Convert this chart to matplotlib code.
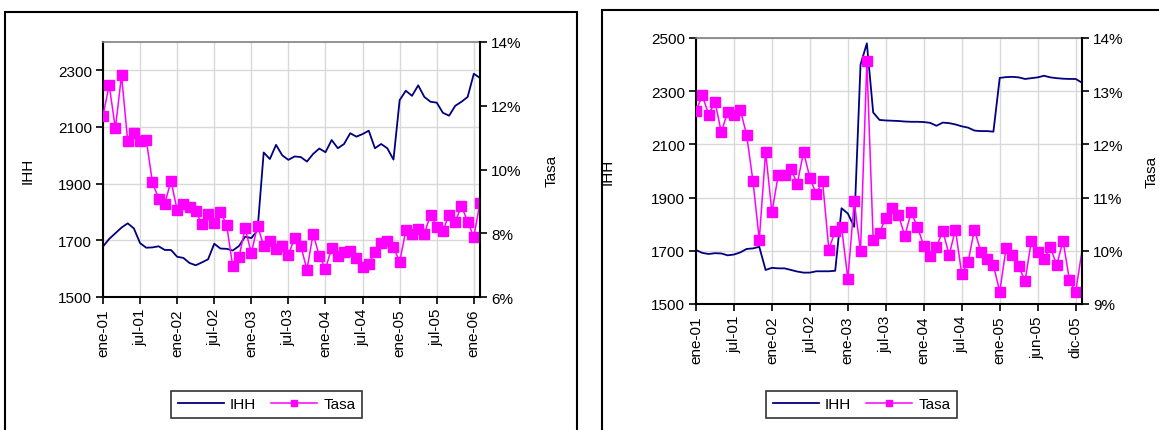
import matplotlib.pyplot as plt
from matplotlib.patches import Rectangle
from matplotlib.ticker import FuncFormatter

plt.rcParams['font.family'] = ['Liberation Sans', 'DejaVu Sans']
plt.rcParams['font.size'] = 11

# --- datos panel izquierdo (mensual, ene-01 .. feb-06)
ihh_izq = [1678, 1705, 1725, 1745, 1760, 1742, 1690, 1674, 1675, 1679,
           1666, 1666, 1642, 1638, 1620, 1612, 1622, 1633, 1688, 1671,
           1670, 1664, 1680, 1713, 1708, 1735, 2010, 1987, 2037, 2000,
           1984, 1996, 1994, 1978, 2005, 2024, 2011, 2054, 2025, 2040,
           2078, 2066, 2075, 2087, 2025, 2040, 2025, 1985, 2195, 2228,
           2210, 2247, 2206, 2189, 2186, 2150, 2140, 2175, 2189, 2206,
           2288, 2273]
tasa_izq = [11.69, 12.65, 11.29, 12.96, 10.88, 11.15, 10.88, 10.93, 9.60, 9.08,
            8.93, 9.64, 8.73, 8.93, 8.81, 8.69, 8.29, 8.60, 8.33, 8.68,
            8.26, 6.96, 7.25, 8.16, 7.37, 8.24, 7.61, 7.75, 7.52, 7.60,
            7.32, 7.85, 7.60, 6.86, 7.98, 7.29, 6.89, 7.53, 7.29, 7.42,
            7.45, 7.23, 6.94, 7.04, 7.41, 7.70, 7.75, 7.57, 7.10, 8.09,
            7.98, 8.12, 7.99, 8.58, 8.20, 8.08, 8.58, 8.36, 8.86, 8.36,
            7.89, 8.96]
etiq_izq = ["ene-01", "jul-01", "ene-02", "jul-02", "ene-03", "jul-03",
            "ene-04", "jul-04", "ene-05", "jul-05", "ene-06"]

# --- datos panel derecho
ihh_der = [1703, 1692, 1688, 1691, 1690, 1683, 1686, 1694, 1707, 1709,
           1715, 1628, 1636, 1634, 1634, 1628, 1622, 1618, 1618, 1623,
           1623, 1623, 1625, 1860, 1840, 1790, 2400, 2480, 2220, 2192,
           2190, 2189, 2188, 2186, 2185, 2185, 2184, 2181, 2170, 2182,
           2180, 2175, 2168, 2163, 2152, 2150, 2150, 2148, 2350, 2353,
           2354, 2352, 2346, 2349, 2352, 2358, 2352, 2349, 2347, 2346,
           2346, 2332]
tasa_der = [12.63, 12.92, 12.56, 12.80, 12.23, 12.61, 12.56, 12.65, 12.18, 11.31,
            10.21, 11.86, 10.72, 11.43, 11.43, 11.54, 11.26, 11.86, 11.37, 11.07,
            11.31, 10.02, 10.38, 10.45, 9.47, 10.93, 10.00, 13.56, 10.21, 10.34,
            10.62, 10.81, 10.67, 10.28, 10.72, 10.45, 10.09, 9.90, 10.07, 10.38,
            9.92, 10.40, 9.56, 9.79, 10.40, 9.98, 9.84, 9.73, 9.23, 10.05,
            9.92, 9.71, 9.43, 10.19, 9.98, 9.84, 10.07, 9.73, 10.19, 9.46,
            9.23, 10.00]
etiq_der = ["ene-01", "jul-01", "ene-02", "jul-02", "ene-03", "jul-03",
            "ene-04", "jul-04", "ene-05", "jun-05", "dic-05"]

AZUL = "#000080"
MAGENTA = "#FF00FF"
W, H = 1159, 431

fig = plt.figure(figsize=(W / 100, H / 100), dpi=100)


def px(x0, y0, x1, y1):
    # caja en pixeles -> fracción de figura
    return [x0 / W, 1 - y1 / H, (x1 - x0) / W, (y1 - y0) / H]


# marcos de cada gráfico
fig.add_artist(Rectangle((5 / W, -0.05), 572 / W, 1.05 - 13 / H, transform=fig.transFigure,
                         fill=False, edgecolor="black", lw=1.5))
fig.add_artist(Rectangle((602 / W, -0.05), 0.6, 1.05 - 11 / H, transform=fig.transFigure,
                         fill=False, edgecolor="black", lw=1.5))


def panel(rect, ihh, tasa, etiq, ylim, yticks, tlim, tticks, ihh_lab_x, tasa_lab_x, leg_rect, last_marker=True):
    ax = fig.add_axes(px(*rect))
    n = len(ihh)
    x = list(range(n))
    l1, = ax.plot(x, ihh, color=AZUL, lw=1.3, label="IHH")
    ax.set_ylim(*ylim)
    ax.set_yticks(yticks)
    ax.set_xlim(0, n - 1)
    ax.set_xticks(range(0, 61, 6))
    ax.set_xticklabels(etiq, rotation=90)
    ax.grid(True, color="#d9d9d9", lw=1)
    ax.set_axisbelow(True)
    ax.tick_params(direction="out", length=5, width=1.2, pad=3)
    for s in ["left", "bottom"]:
        ax.spines[s].set_linewidth(1.5)
    ax.spines["top"].set_color("#808080")
    ax.spines["top"].set_linewidth(1.2)
    ax.spines["right"].set_visible(False)
    ax.set_ylabel("IHH")
    ax.yaxis.set_label_coords((ihh_lab_x - rect[0]) / (rect[2] - rect[0]), 0.5)

    ax2 = ax.twinx()
    mk = None if last_marker else list(range(n - 1))
    l2, = ax2.plot(x, tasa, color=MAGENTA, lw=1.1, marker="s", ms=7,
                   markevery=mk, label="Tasa")
    ax2.set_ylim(*tlim)
    ax2.set_yticks(tticks)
    ax2.yaxis.set_major_formatter(FuncFormatter(lambda v, p: f"{v:.0f}%"))
    ax2.tick_params(direction="out", length=5, width=1.2, pad=3)
    ax2.spines["right"].set_linewidth(1.5)
    for s in ["left", "bottom", "top"]:
        ax2.spines[s].set_visible(False)
    ax2.set_ylabel("Tasa", rotation=90)
    ax2.yaxis.set_label_coords((tasa_lab_x - rect[0]) / (rect[2] - rect[0]), 0.5)

    lx0, ly0, lx1, ly1 = leg_rect
    leg = fig.legend([l1, l2], ["IHH", "Tasa"], loc="center",
                     bbox_to_anchor=((lx0 + lx1) / 2 / W, 1 - (ly0 + ly1) / 2 / H),
                     ncol=2, frameon=True, fancybox=False, handlelength=3,
                     columnspacing=1.0, borderpad=0.45, markerscale=0.7,
                     handletextpad=0.4)
    leg.get_frame().set_edgecolor("black")
    leg.get_frame().set_linewidth(1.2)
    return ax, ax2


panel((103, 43, 480, 298), ihh_izq, tasa_izq, etiq_izq,
      (1500, 2400), range(1500, 2400, 200), (6, 14), range(6, 15, 2),
      35, 545, (175, 391, 358, 420))
panel((696, 39, 1082, 305), ihh_der, tasa_der, etiq_der,
      (1500, 2500), range(1500, 2501, 200), (9, 14), range(9, 15, 1),
      615, 1145, (768, 391, 955, 420), last_marker=False)

fig.savefig("out.png", dpi=100)
